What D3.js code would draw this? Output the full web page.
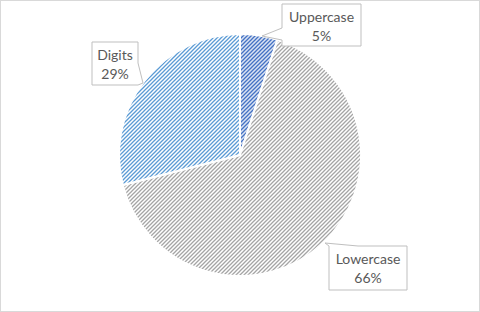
<!DOCTYPE html>
<html>
<head>
<meta charset="utf-8">
<script src="https://cdnjs.cloudflare.com/ajax/libs/d3/7.8.5/d3.min.js"></script>
<style>
  body { margin: 0; background: #fff; }
  svg { display: block; }
</style>
</head>
<body>
<script>
const width = 480;
const height = 312;

const categories = ["Uppercase", "Lowercase", "Digits"];
const values = [5, 66, 29];
const foreColors = ["#4472C4", "#A5A5A5", "#5B9BD5"];
const backColors = ["#DAE3F3", "#FFFFFF", "#FFFFFF"];

// where each callout box sits and where its pointer goes (layout only)
const callouts = [
  {box: [282, 4, 79, 42], side: "left", base: [28, 40], tip: [262, 36]},
  {box: [329, 246, 78, 44], side: "top", base: [329, 358], tip: [325, 243]},
  {box: [92, 42, 46, 43], side: "right", base: [63, 85], tip: [143, 83]}
];

const cx = 240, cy = 155, radius = 121;

const svg = d3.select("body").append("svg")
  .attr("width", width)
  .attr("height", height);

svg.append("rect")
  .attr("x", 0.5).attr("y", 0.5)
  .attr("width", width - 1).attr("height", height - 1)
  .attr("fill", "#fff")
  .attr("stroke", "#D9D9D9");

const defs = svg.append("defs");
categories.forEach(function(c, i) {
  const p = defs.append("pattern")
    .attr("id", "hatch" + i)
    .attr("patternUnits", "userSpaceOnUse")
    .attr("width", 4).attr("height", 4);
  p.append("rect").attr("width", 4).attr("height", 4).attr("fill", backColors[i]);
  p.append("path")
    .attr("d", "M-1,1 l2,-2 M0,4 l4,-4 M3,5 l2,-2")
    .attr("stroke", foreColors[i])
    .attr("stroke-width", 1.3);
});

const pie = d3.pie().sort(null).value(function(d) { return d; });
const arc = d3.arc().innerRadius(0).outerRadius(radius);

const g = svg.append("g").attr("transform", "translate(" + cx + "," + cy + ")");
g.selectAll("path")
  .data(pie(values))
  .enter().append("path")
  .attr("d", arc)
  .attr("fill", function(d, i) { return "url(#hatch" + i + ")"; })
  .attr("stroke", "#fff")
  .attr("stroke-width", 2)
  .attr("stroke-linejoin", "round");

function calloutPath(c) {
  const x = c.box[0], y = c.box[1], w = c.box[2], h = c.box[3];
  const t = c.tip, b = c.base;
  if (c.side === "left") {
    return "M" + x + "," + y + "H" + (x + w) + "V" + (y + h) + "H" + x +
      "V" + b[1] + "L" + t[0] + "," + t[1] + "L" + x + "," + b[0] + "Z";
  }
  if (c.side === "top") {
    return "M" + x + "," + y + "L" + t[0] + "," + t[1] + "L" + b[1] + "," + y +
      "H" + (x + w) + "V" + (y + h) + "H" + x + "Z";
  }
  // right
  return "M" + x + "," + y + "H" + (x + w) + "V" + b[0] + "L" + t[0] + "," + t[1] +
    "L" + (x + w) + "," + b[1] + "V" + (y + h) + "H" + x + "Z";
}

const labels = svg.append("g").selectAll("g")
  .data(callouts)
  .enter().append("g");

labels.append("path")
  .attr("d", calloutPath)
  .attr("fill", "#fff")
  .attr("stroke", "#BFBFBF")
  .attr("stroke-width", 1);

labels.append("text")
  .attr("x", function(d) { return d.box[0] + d.box[2] / 2; })
  .attr("y", function(d) { return d.box[1] + 18; })
  .attr("text-anchor", "middle")
  .attr("font-family", "Lato, 'Open Sans', sans-serif")
  .attr("font-size", 14)
  .attr("fill", "#595959")
  .text(function(d, i) { return categories[i]; });

labels.append("text")
  .attr("x", function(d) { return d.box[0] + d.box[2] / 2; })
  .attr("y", function(d) { return d.box[1] + 37; })
  .attr("text-anchor", "middle")
  .attr("font-family", "Lato, 'Open Sans', sans-serif")
  .attr("font-size", 14)
  .attr("fill", "#595959")
  .text(function(d, i) { return values[i] + "%"; });
</script>
</body>
</html>
